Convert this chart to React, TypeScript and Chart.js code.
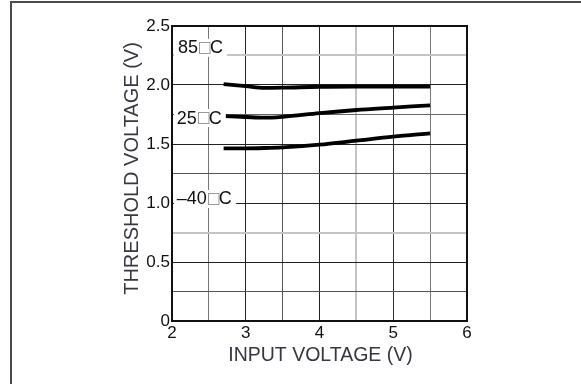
import React, { useEffect, useRef } from "react";
import { Chart, registerables } from "chart.js";

Chart.register(...registerables);

// ---- data ----
const inputVoltage = [2.7, 3.0, 3.25, 3.5, 4.0, 4.5, 5.0, 5.5];
const threshold85C = [2.008, 1.99, 1.975, 1.977, 1.985, 1.987, 1.987, 1.987];
const threshold25C = [1.737, 1.729, 1.723, 1.731, 1.762, 1.788, 1.808, 1.828];
const thresholdMinus40C = [1.463, 1.463, 1.466, 1.472, 1.494, 1.528, 1.562, 1.59];
const seriesTemps = ["85", "25", "–40"];
const labelAnchorX = [2.08, 2.065, 2.065];
const labelAnchorY = [2.315, 1.72, 1.034];
const xTickLabels = ["2", "3", "4", "5", "6"];
const yTickLabels = ["0", "0.5", "1.0", "1.5", "2.0", "2.5"];
const xTitle = "INPUT VOLTAGE (V)";
const yTitle = "THRESHOLD VOLTAGE (V)";

const FONT = "'Liberation Sans', Arial, sans-serif";

// grid styling keyed by quarter / half steps
const xGridColor: Record<number, string> = {
  4: "#111", 5: "#777", 6: "#222", 7: "#555", 8: "#222", 9: "#c4c4c4", 10: "#333", 11: "#777", 12: "#111",
};
const yGridColor: Record<number, string> = {
  0: "#111", 1: "#555", 2: "#222", 3: "#c4c4c4", 4: "#222", 5: "#555", 6: "#222", 7: "#666", 8: "#222", 9: "#c4c4c4", 10: "#111",
};

const decorPlugin = {
  id: "decor",
  beforeDraw(chart: any) {
    const { ctx, width, height } = chart;
    ctx.save();
    ctx.fillStyle = "#fff";
    ctx.fillRect(0, 0, width, height);
    ctx.fillStyle = "#4a4a4a";
    ctx.fillRect(10, 1, 2, height);
    ctx.fillRect(10, 1, width, 2);
    ctx.restore();
  },
  afterDatasetsDraw(chart: any) {
    const { ctx, chartArea: a } = chart;
    ctx.save();
    ctx.strokeStyle = "#111";
    ctx.lineWidth = 2;
    ctx.strokeRect(a.left, a.top, a.right - a.left, a.bottom - a.top);
    ctx.restore();
  },
  afterDraw(chart: any) {
    const { ctx, chartArea: a, scales } = chart;
    ctx.save();
    // series labels
    ctx.font = `18px ${FONT}`;
    ctx.textBaseline = "middle";
    ctx.textAlign = "left";
    seriesTemps.forEach((t, i) => {
      const x = scales.x.getPixelForValue(labelAnchorX[i]);
      const y = scales.y.getPixelForValue(labelAnchorY[i]);
      const wNum = ctx.measureText(t).width;
      const boxW = 10.5;
      const wC = ctx.measureText("C").width;
      const total = wNum + 1 + boxW + 0.5 + wC;
      ctx.fillStyle = "#fff";
      ctx.fillRect(a.left + 2, y - 9, x - a.left + total + 2, 18);
      ctx.fillStyle = "#111";
      ctx.fillText(t, x, y + 0.5);
      ctx.strokeStyle = "#9a9a9a";
      ctx.lineWidth = 1;
      ctx.strokeRect(Math.round(x + wNum + 1) + 0.5, Math.round(y - 6) + 0.5, boxW, 11);
      ctx.fillText("C", x + wNum + 1 + boxW + 0.5, y + 0.5);
    });
    // axis titles
    ctx.fillStyle = "#3a3540";
    ctx.font = `19.5px ${FONT}`;
    ctx.textAlign = "center";
    ctx.textBaseline = "middle";
    ctx.fillText(xTitle, (a.left + a.right) / 2 + 1, a.bottom + 35);
    ctx.font = `20px ${FONT}`;
    ctx.translate(a.left - 40, (a.top + a.bottom) / 2 - 5);
    ctx.rotate(-Math.PI / 2);
    ctx.fillText(yTitle, 0, 0);
    ctx.restore();
  },
};

export default function App() {
  const ref = useRef<HTMLCanvasElement>(null);
  useEffect(() => {
    if (!ref.current) return;
    const mk = (vals: number[]) => inputVoltage.map((x, i) => ({ x, y: vals[i] }));
    const lineStyle = {
      borderColor: "#000",
      borderWidth: 3.8,
      pointRadius: 0,
      cubicInterpolationMode: "monotone" as const,
      borderCapStyle: "butt" as const,
      fill: false,
    };
    const chart = new Chart(ref.current, {
      type: "line",
      data: {
        datasets: [
          { label: "85", data: mk(threshold85C), ...lineStyle },
          { label: "25", data: mk(threshold25C), ...lineStyle },
          { label: "-40", data: mk(thresholdMinus40C), ...lineStyle },
        ],
      },
      options: {
        animation: false,
        responsive: false,
        devicePixelRatio: 1,
        layout: { padding: { left: 0, top: 26, right: 114, bottom: 0 } },
        plugins: { legend: { display: false }, tooltip: { enabled: false } },
        scales: {
          x: {
            type: "linear",
            min: 2,
            max: 6,
            afterFit: (s: any) => { s.height = 63; },
            ticks: {
              stepSize: 0.5,
              autoSkip: false,
              maxRotation: 0,
              padding: 2,
              color: "#111",
              font: { family: FONT, size: 17 },
              callback: (v: any) => {
                const n = Number(v);
                return Number.isInteger(n) ? xTickLabels[n - 2] : "";
              },
            },
            grid: {
              drawTicks: false,
              color: (c: any) => xGridColor[Math.round(c.tick.value * 2)] || "#333",
              lineWidth: (c: any) => (xGridColor[Math.round(c.tick.value * 2)] === "#c4c4c4" ? 2 : 1),
            },
            border: { display: true, color: "#111", width: 2 },
          },
          y: {
            type: "linear",
            min: 0,
            max: 2.5,
            afterFit: (s: any) => { s.width = 172; },
            ticks: {
              stepSize: 0.25,
              autoSkip: false,
              padding: 2,
              color: "#111",
              font: { family: FONT, size: 17 },
              callback: (v: any) => {
                const k = Math.round(Number(v) * 4);
                return k % 2 === 0 ? yTickLabels[k / 2] : "";
              },
            },
            grid: {
              drawTicks: false,
              color: (c: any) => yGridColor[Math.round(c.tick.value * 4)] || "#333",
              lineWidth: (c: any) => (yGridColor[Math.round(c.tick.value * 4)] === "#c4c4c4" ? 2 : 1),
            },
            border: { display: true, color: "#111", width: 2 },
          },
        },
      },
      plugins: [decorPlugin],
    });
    return () => chart.destroy();
  }, []);
  return (
    <div style={{ position: "fixed", left: 0, top: 0, width: 581, height: 384, background: "#fff" }}>
      <canvas ref={ref} width={581} height={384} style={{ display: "block" }} />
    </div>
  );
}
